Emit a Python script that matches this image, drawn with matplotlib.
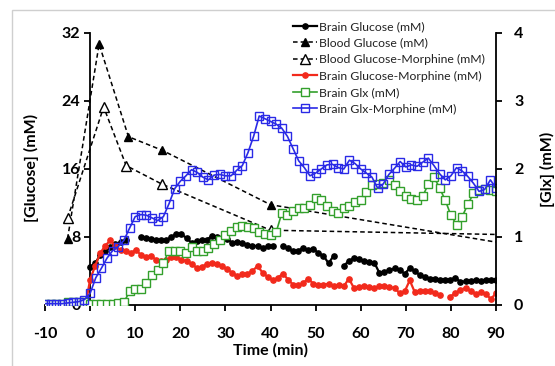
import matplotlib
matplotlib.use('Agg')
import matplotlib.pyplot as plt
import matplotlib.patches as mpatches
import numpy as np

plt.rcParams['font.family'] = ['Lato', 'DejaVu Sans']
plt.rcParams['axes.unicode_minus'] = False

# time grids (min)
t_glx = np.arange(81) * 1.25 - 10          # -10 .. 90
t_brain = np.arange(81) * 1.125              # 0 .. 90
t_brain_m = np.concatenate(([-1.0], t_brain))

# blood glucose (left axis, mM)
t_blood = [-5, 2, 8.5, 16, 40, 90]
blood = [7.8, 30.7, 19.8, 18.2, 11.8, 7.4]
t_blood_m = [-5, 3, 8, 16, 40, 90]
blood_m = [10.2, 23.3, 16.4, 14.2, 8.8, 8.3]

# brain glucose (left axis, mM), nan = gap
brain = [4.5, 4.9, 5.9, 6.4, 6.8, 7.2, 7.4, 7.6, np.nan, np.nan,
         8.0, 7.9, 7.8, 7.7, 7.6, 7.6, 8.0, 8.4, 8.3, 7.9,
         7.3, 7.5, 7.6, 7.7, 8.1, 8.0, 7.9, 7.8, 7.3, 7.4,
         7.3, 7.1, 7.0, 6.9, 6.7, 6.9, 6.9, np.nan, 7.0, 6.7,
         6.3, 6.4, 6.7, 6.5, 6.6, 6.1, 5.8, 4.9, 5.8, np.nan,
         4.6, 5.2, 5.5, 5.4, 5.2, 5.1, 5.0, 3.8, 3.9, 4.1,
         4.3, 4.1, 3.7, 4.3, 4.0, 3.5, 3.3, 3.1, 3.1, 3.0,
         3.0, 3.0, 3.2, 2.7, 2.8, 2.8, 2.9, 2.8, 2.9, 2.9,
         2.9]
brain_m = [0.0,
           3.0, 4.6, 6.1, 7.0, 7.6, 6.9, 6.5, 6.4, 6.1, 6.5,
           5.9, 5.7, 5.8, 5.3, 5.2, 5.3, 5.6, 5.7, 5.3, 5.2,
           4.8, 4.4, 4.5, 4.8, 4.9, 4.8, 4.6, 4.2, 3.8, 3.4,
           3.6, 3.7, 4.0, 4.6, 3.8, 3.3, 2.9, 3.2, 3.7, 3.0,
           2.4, 2.3, 2.6, 3.1, 2.5, 2.3, 2.4, 2.5, 2.2, 2.4,
           2.2, 3.1, 2.0, 2.1, 2.2, 2.1, 2.0, 2.2, 2.2, 2.1,
           2.0, 1.4, 1.6, 2.9, 1.5, 1.7, 1.7, 1.6, 1.4, 1.2,
           np.nan, 1.0, 1.4, 1.8, 2.0, 1.7, 1.3, 1.5, 1.3, 0.7,
           1.4]

# brain Glx (right axis, mM)
glx = [0.02, 0.02, 0.02, 0.02, 0.04, 0.05, 0.05, 0.04, 0.02, 0.02,
       0.02, 0.02, 0.02, 0.03, 0.04, 0.20, 0.23, 0.24, 0.32, 0.44,
       0.51, 0.62, 0.80, 0.80, 0.80, 0.76, 0.85, 0.79, 0.80, 0.84,
       0.90, 0.96, 1.03, 1.09, 1.15, 1.16, 1.15, 1.13, 1.08, 1.05,
       1.03, 1.07, 1.35, 1.33, 1.38, 1.42, 1.42, 1.47, 1.57, 1.55,
       1.45, 1.38, 1.35, 1.42, 1.45, 1.52, 1.54, 1.66, 1.76, 1.78,
       1.80, 1.84, 1.76, 1.67, 1.60, 1.56, 1.55, 1.60, 1.78, 1.88,
       1.72, 1.54, 1.32, 1.18, 1.30, 1.48, 1.64, 1.69, 1.70, 1.69,
       1.67]
glx_m = [0.02, 0.02, 0.02, 0.02, 0.03, 0.04, 0.05, 0.08, 0.17, 0.40,
         0.54, 0.69, 0.80, 0.86, 0.95, 1.13, 1.30, 1.33, 1.32, 1.28,
         1.24, 1.30, 1.49, 1.71, 1.82, 1.90, 1.99, 1.95, 1.88, 1.84,
         1.91, 1.92, 1.90, 1.90, 1.98, 2.05, 2.24, 2.48, 2.78, 2.74,
         2.70, 2.66, 2.60, 2.48, 2.30, 2.12, 2.02, 1.90, 1.94, 2.00,
         2.06, 2.07, 2.02, 2.00, 2.13, 2.08, 2.00, 1.94, 1.88, 1.72,
         1.78, 1.92, 2.01, 2.11, 2.03, 2.06, 2.04, 2.10, 2.16, 2.05,
         1.93, 1.84, 1.90, 2.02, 1.97, 1.89, 1.79, 1.67, 1.70, 1.84,
         1.72]

RED = '#f22a1c'
GREEN = '#33a02c'
BLUE = '#2a2ae6'

fig = plt.figure(figsize=(5.55, 3.66), dpi=100)
ax = fig.add_axes([45 / 555, 1 - 305 / 366, 451 / 555, 272 / 366])
ax2 = ax.twinx()

# left axis series
l1, = ax.plot(t_brain, brain, color='black', marker='o', ms=3.8, lw=1.6, zorder=3,
              label='Brain Glucose (mM)')
l2, = ax.plot(t_blood, blood, color='black', ls=(0, (3, 2)), lw=1.1, marker='^', ms=6,
              markevery=[0, 1, 2, 3, 4], zorder=3, label='Blood Glucose (mM)')
l3, = ax.plot(t_blood_m, blood_m, color='black', ls=(0, (3, 2)), lw=1.1, marker='^', ms=6.5,
              mfc='white', markevery=[0, 1, 2, 3, 4], zorder=3, label='Blood Glucose-Morphine (mM)')
l4, = ax.plot(t_brain_m, brain_m, color=RED, marker='o', ms=3.8, lw=1.6, zorder=3,
              label='Brain Glucose-Morphine (mM)')

# right axis series
l5, = ax2.plot(t_glx, glx, color=GREEN, marker='s', ms=5.2, mfc='white', mew=1.0, lw=1.2,
               label='Brain Glx (mM)')
l6, = ax2.plot(t_glx, glx_m, color=BLUE, marker='s', ms=5.2, mfc='none', mew=1.0, lw=1.2,
               label='Brain Glx-Morphine (mM)')

ax.set_xlim(-10, 90)
ax.set_ylim(0, 32)
ax2.set_ylim(0, 4)
ax.set_xticks(np.arange(-10, 91, 10))
ax.set_yticks([0, 8, 16, 24, 32])
ax2.set_yticks([0, 1, 2, 3, 4])

ax.spines['left'].set_position(('data', 0))
ax.spines['top'].set_visible(False)
ax.spines['right'].set_visible(False)
for s in ['left', 'top', 'bottom']:
    ax2.spines[s].set_visible(False)
for sp in [ax.spines['left'], ax.spines['bottom'], ax2.spines['right']]:
    sp.set_linewidth(1.3)

ax.tick_params(axis='x', direction='out', length=4, width=1.3, labelsize=11.5, pad=12)
ax.tick_params(axis='y', direction='out', length=4, width=1.3, labelsize=11.5, pad=3)
ax2.tick_params(direction='out', length=4, width=1.3, labelsize=11.5, pad=9)
for lab in ax.get_xticklabels() + ax.get_yticklabels() + ax2.get_yticklabels():
    lab.set_fontweight('bold')

ax.set_xlabel('Time (min)', fontsize=11.5, fontweight='bold', labelpad=1)
fig.text(31 / 555, 1 - 168 / 366, '[Glucose] (mM)', rotation=90, fontsize=11.5,
         fontweight='bold', ha='center', va='center')
ax2.set_ylabel('[Glx] (mM)', fontsize=11.5, fontweight='bold', labelpad=12)

fig.legend(handles=[l1, l2, l3, l4, l5, l6], loc='upper left',
           bbox_to_anchor=(293 / 555, 1 - 21 / 366), frameon=False,
           fontsize=8.8, handlelength=2.0, handletextpad=0.15, labelspacing=0.45,
           borderpad=0, borderaxespad=0, labelcolor='#222222')

# light grey frame around the chart
fig.patches.append(mpatches.Rectangle((12 / 555, -0.1), 1.2, 1.1 - 10 / 366,
                                      transform=fig.transFigure, fill=False,
                                      edgecolor='#cfcfcf', lw=1.0))

fig.savefig('out.png', dpi=100)
